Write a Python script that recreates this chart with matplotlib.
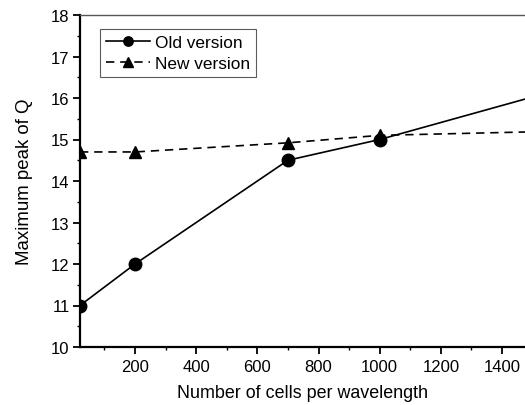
import matplotlib
matplotlib.use('Agg')
import matplotlib.pyplot as plt
from matplotlib.ticker import MultipleLocator

plt.rcParams['font.family'] = ['Liberation Sans', 'DejaVu Sans']

cells = [20, 200, 700, 1000, 2000]
old_q = [11.0, 12.0, 14.5, 15.0, 17.05]
new_q = [14.7, 14.7, 14.92, 15.1, 15.27]

fig = plt.figure(figsize=(5.25, 4.06), dpi=100)
ax = fig.add_axes([80/525, 58/406, 1 - 80/525, (348 - 16)/406])

ax.plot(cells, old_q, '-', color='black', lw=1.2, marker='o', ms=9,
        label='Old version')
ax.plot(cells, new_q, '--', color='black', lw=1.2, marker='^', ms=9,
        dashes=(5, 3.5), label='New version')

ax.set_xlim(20, 1475)
ax.set_ylim(10, 18)
ax.xaxis.set_minor_locator(MultipleLocator(100))
ax.yaxis.set_major_locator(MultipleLocator(1))
ax.yaxis.set_minor_locator(MultipleLocator(0.5))
ax.set_xticks([200, 400, 600, 800, 1000, 1200, 1400])

ax.tick_params(which='major', direction='out', length=5, width=1.3,
               labelsize=12, pad=2.5)
ax.tick_params(which='minor', direction='out', length=2.5, width=1.0)
ax.tick_params(axis='x', pad=4)

for s in ['left', 'bottom']:
    ax.spines[s].set_linewidth(1.6)
ax.spines['top'].set_linewidth(1.0)
ax.spines['top'].set_color('#555555')
ax.spines['right'].set_visible(False)

ax.set_xlabel('Number of cells per wavelength', fontsize=12.9, labelpad=7)
ax.set_ylabel('Maximum peak of Q', fontsize=13.4, labelpad=13)

leg = ax.legend(loc='upper left', bbox_to_anchor=(0.044, 0.958), fontsize=12.4,
                frameon=True, fancybox=False, edgecolor='#333333',
                handlelength=2.6, handletextpad=0.28, borderpad=0.35,
                labelspacing=0.33, borderaxespad=0, markerscale=0.75)
leg.get_frame().set_linewidth(0.8)

fig.savefig('out.png', dpi=100)
